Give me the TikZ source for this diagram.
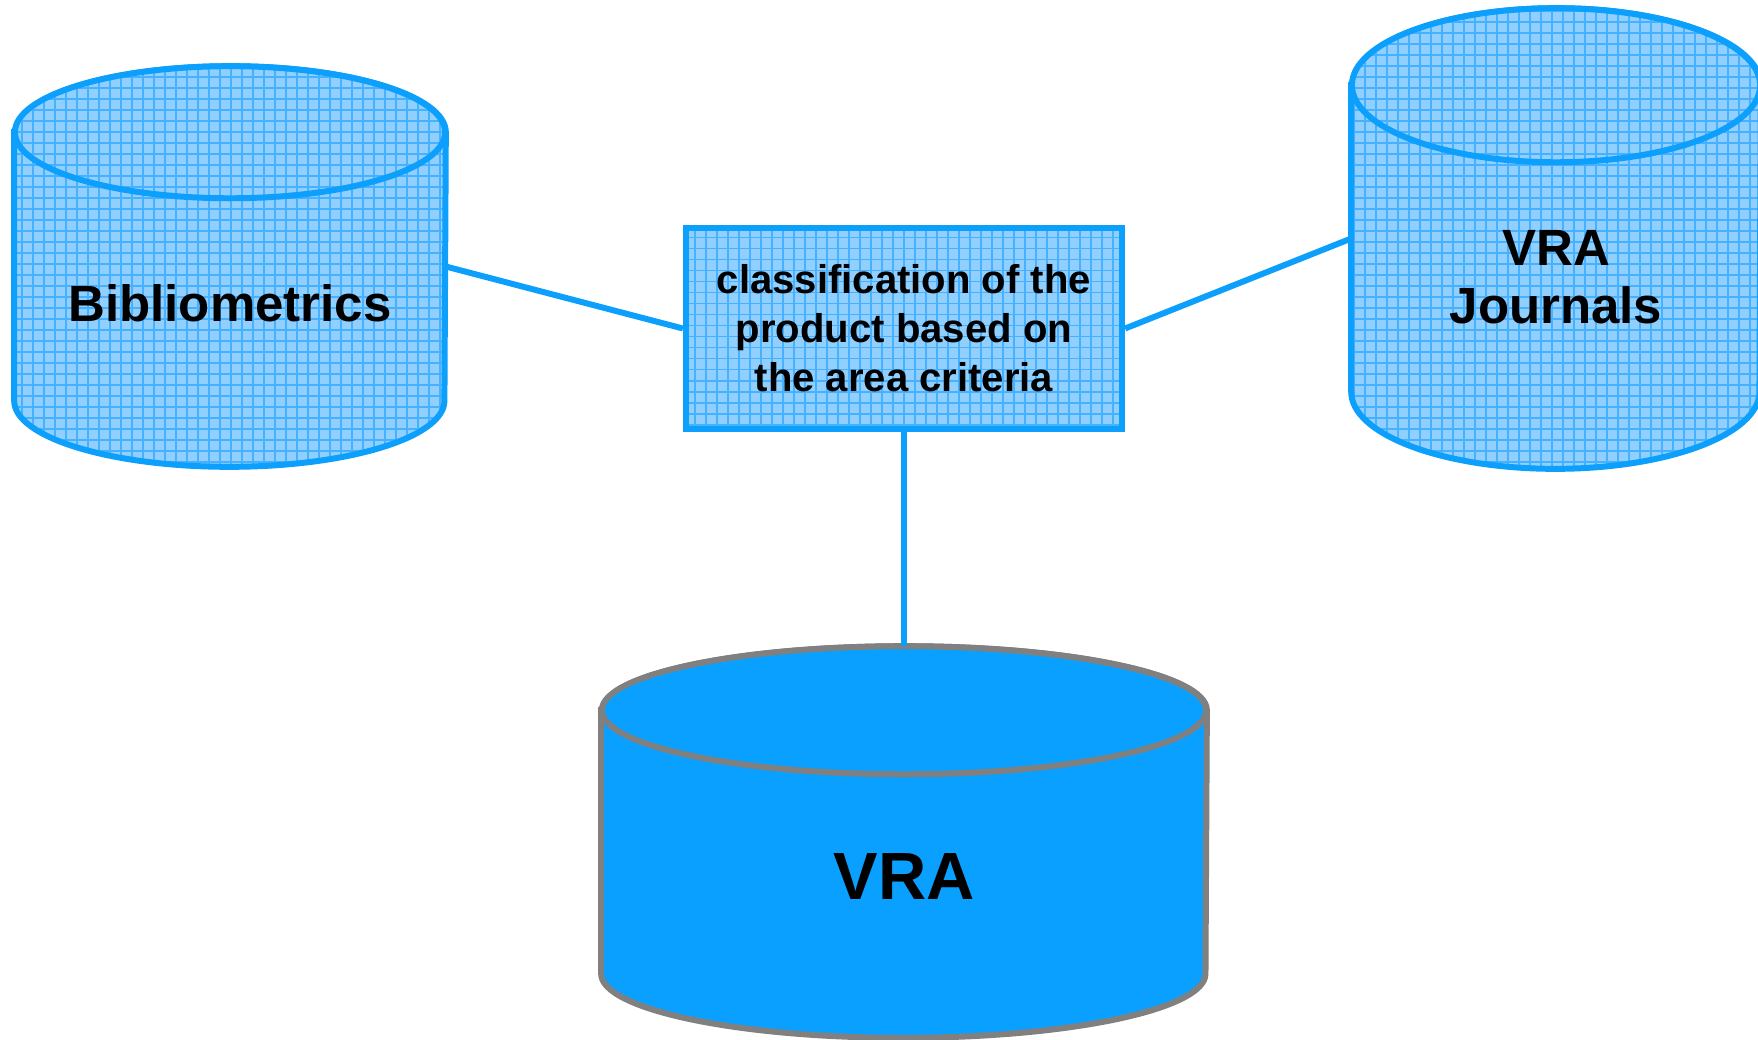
\documentclass[tikz,border=0pt]{standalone}
\usepackage{fontspec}
\setmainfont{Liberation Sans}
\definecolor{dbline}{RGB}{12,160,252}
\definecolor{dbfill}{RGB}{145,207,255}
\definecolor{dbgrid}{RGB}{70,178,255}
\definecolor{vrafill}{RGB}{10,160,255}
\definecolor{vraedge}{RGB}{128,128,128}
\tikzset{every node/.style={font=\bfseries},
  gridfill/.style={fill=dbfill,% squared paper look
    path picture={\draw[dbgrid, line width=0.45pt]
      (path picture bounding box.south west) grid[step=0.11cm]
      (path picture bounding box.north east);}},
  dbbox/.style={rectangle, inner sep=0pt},% invisible frame of a cylinder
  db/.style={draw=dbline, line width=1.7pt, gridfill},
  vradb/.style={draw=vraedge, line width=1.7pt, fill=vrafill},
  crit/.style={rectangle, draw=dbline, line width=1.7pt, gridfill,
    minimum width=4.36cm, minimum height=2cm, align=center,
    font=\bfseries\fontsize{11.4}{13.9}\selectfont},
  dbtext/.style={align=center, font=\bfseries\fontsize{14.5}{16.5}\selectfont},
  link/.style={dbline, line width=1.7pt}}
% #1 node, #2 x radius, #3 y radius, #4 style
\newcommand\dbdraw[4]{%
  \path[#4] ([yshift=-#3]#1.north west) -- ([yshift=#3]#1.south west)
    arc[start angle=180, end angle=360, x radius=#2, y radius=#3]
    -- ([yshift=-#3]#1.north east)
    arc[start angle=0, end angle=180, x radius=#2, y radius=#3] -- cycle;
  \path[#4] ([yshift=-#3]#1.north) ellipse[x radius=#2, y radius=#3];}

\begin{document}
\begin{tikzpicture}[x=0.01cm, y=-0.01cm]
      \useasboundingbox (0,0) rectangle (1758,1039);
      \node[dbbox, minimum width=4.30cm, minimum height=3.99cm]
        (biblio) at (230,266.5) {};
      \node[dbbox, minimum width=4.08cm, minimum height=4.59cm]
        (journals) at (1556,238.5) {};
      \node[dbbox, minimum width=6.04cm, minimum height=3.90cm]
        (vra) at (904,842) {};
      \dbdraw{biblio}{2.15cm}{0.66cm}{db}
      \dbdraw{journals}{2.04cm}{0.77cm}{db}
      \dbdraw{vra}{3.02cm}{0.64cm}{vradb}
      \node[crit] (criteria) at (904,328.5)
        {classification of the\\product based on\\the area criteria};
      \node[dbtext] (bibliotext) at (230,303) {Bibliometrics};
      \node[dbtext] (journalstext) at (1556,277) {VRA\\Journals};
      \node[dbtext, font=\bfseries\fontsize{19}{22}\selectfont]
        (vratext) at (904,876) {VRA};
      \draw[link] (biblio.east) -- (criteria.west);
      \draw[link] (criteria.east) -- (journals.west);
      \draw[link] (criteria.south) -- (vra.north);
\end{tikzpicture}
\end{document}
